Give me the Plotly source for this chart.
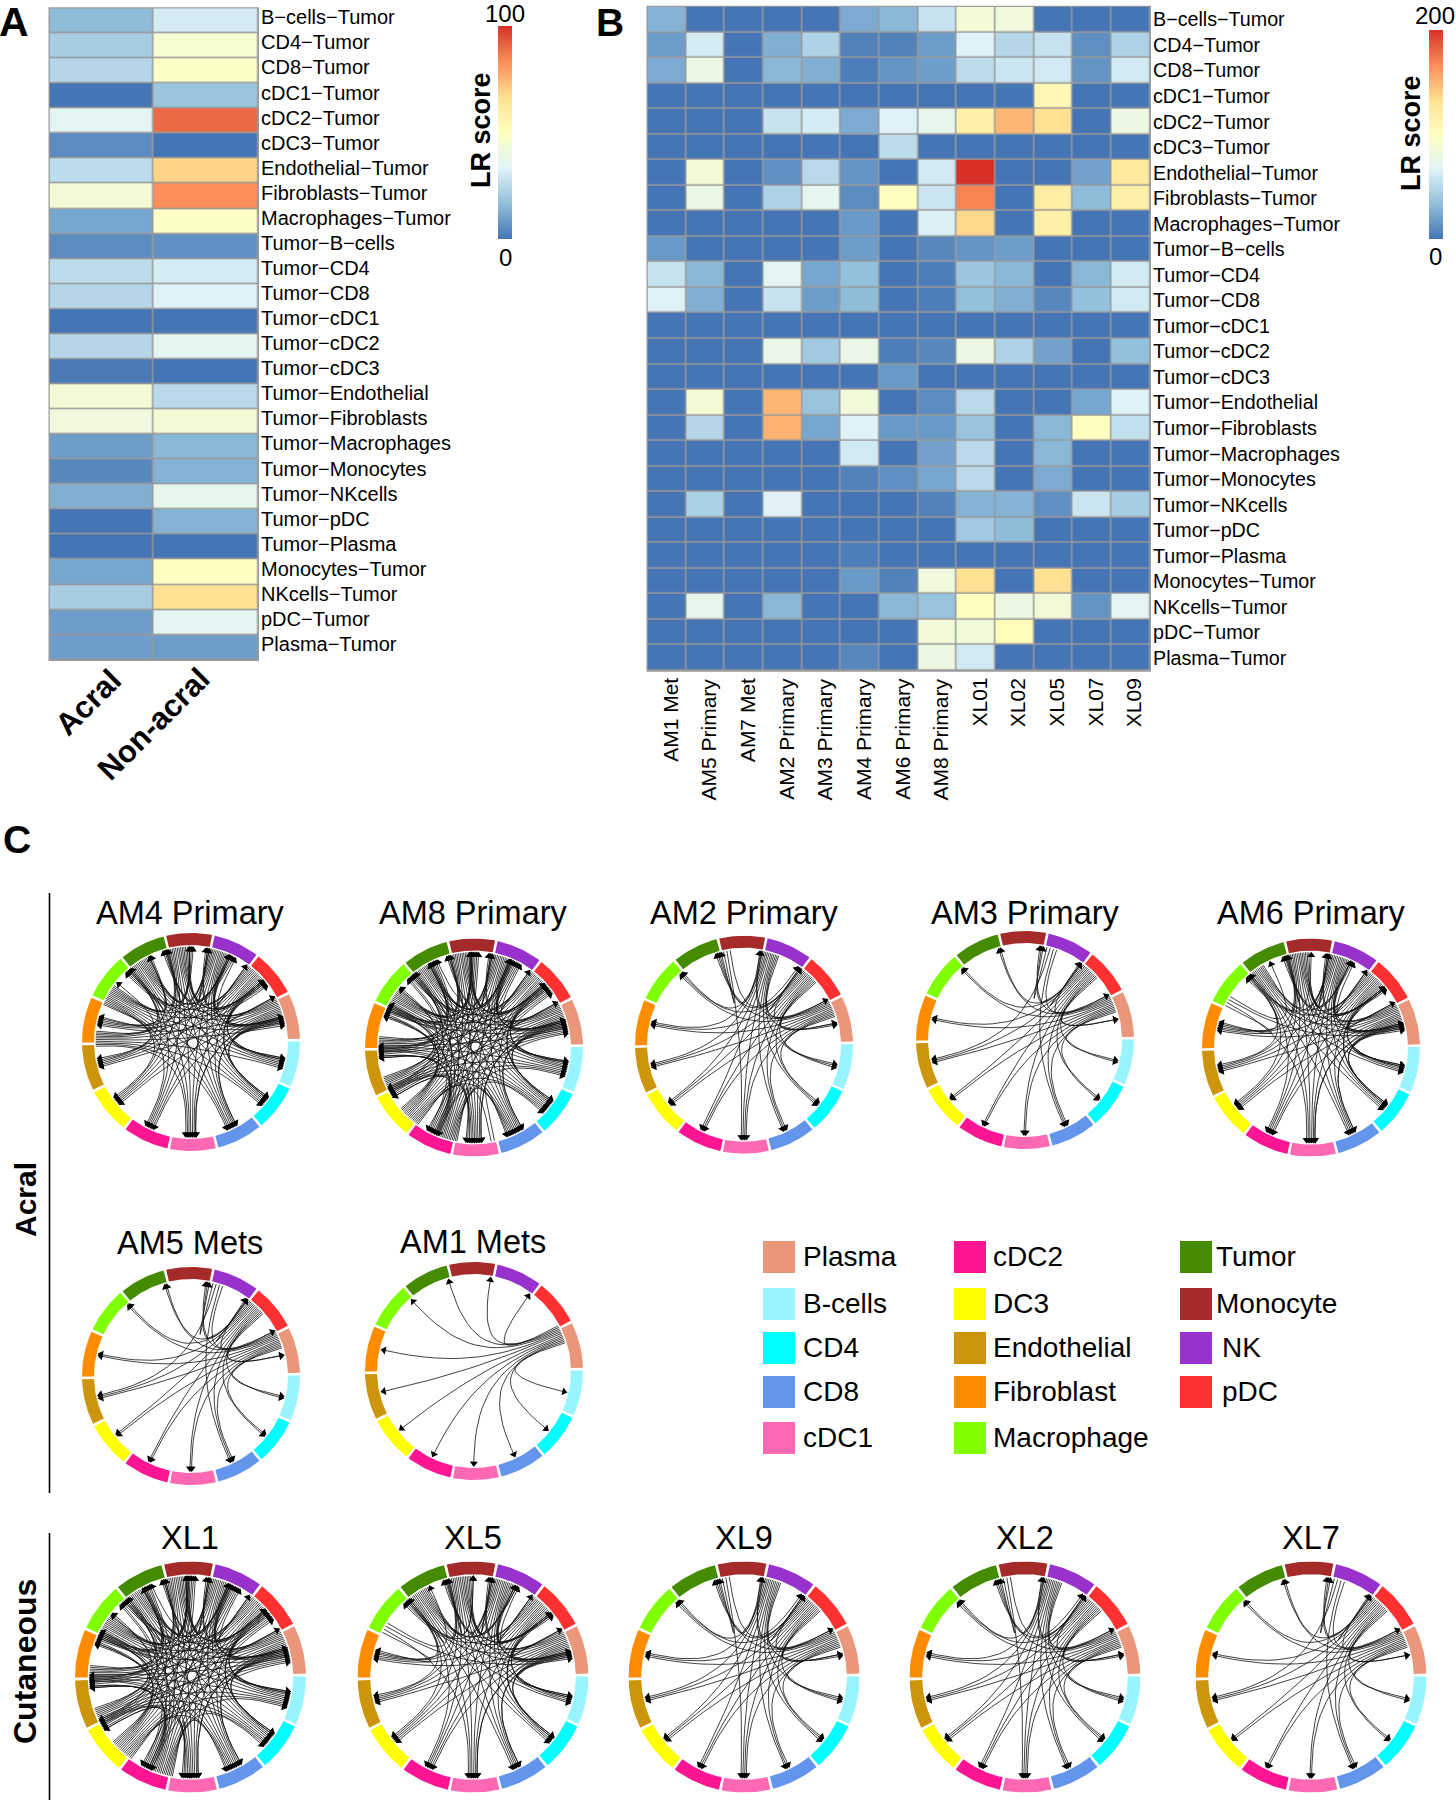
import numpy as np
import plotly.graph_objects as go

W, H = 1456, 1800
FONT = "Liberation Sans"

# ---------- Panels A and B: heatmap data ----------
M = "\u2212"
PAIRS = ["B-cells", "CD4", "CD8", "cDC1", "cDC2", "cDC3", "Endothelial", "Fibroblasts", "Macrophages"]
ROW_LABELS = [f"{p}{M}Tumor" for p in [x.replace("-", M) for x in PAIRS]] + \
    [f"Tumor{M}{x.replace('-', M)}" for x in ["B-cells", "CD4", "CD8", "cDC1", "cDC2", "cDC3", "Endothelial",
                                                 "Fibroblasts", "Macrophages", "Monocytes", "NKcells", "pDC", "Plasma"]] + \
    [f"{x}{M}Tumor" for x in ["Monocytes", "NKcells", "pDC", "Plasma"]]

A_ACRAL = [16, 21, 24, 0, 35, 5, 26, 44, 11, 5, 26, 24, 0, 24, 1, 44, 41, 9, 4, 13, 0, 0, 11, 21, 9, 9]
A_NONACRAL = [31, 45, 48, 19, 90, 0, 69, 83, 48, 6, 31, 33, 0, 36, 0, 25, 44, 15, 14, 37, 14, 0, 50, 66, 35, 9]

B_SAMPLES = ["AM1 Met", "AM5 Primary", "AM7 Met", "AM2 Primary", "AM3 Primary", "AM4 Primary", "AM6 Primary",
             "AM8 Primary", "XL01", "XL02", "XL05", "XL07", "XL09"]
B_VALUES = [
    [28, 0, 0, 0, 0, 24, 30, 56, 88, 82, 0, 0, 0],
    [18, 62, 0, 26, 46, 6, 6, 18, 66, 48, 56, 12, 46],
    [24, 80, 0, 30, 26, 4, 14, 18, 52, 58, 60, 14, 60],
    [0, 0, 0, 0, 0, 0, 0, 0, 0, 0, 108, 0, 0],
    [0, 0, 0, 56, 62, 24, 66, 74, 116, 150, 132, 0, 80],
    [0, 0, 0, 0, 0, 0, 52, 0, 0, 0, 0, 0, 0],
    [0, 88, 0, 12, 50, 14, 0, 60, 200, 0, 0, 20, 124],
    [0, 78, 0, 46, 72, 10, 100, 58, 170, 0, 120, 32, 116],
    [0, 0, 0, 0, 0, 16, 0, 64, 136, 0, 116, 0, 0],
    [16, 0, 0, 0, 0, 18, 0, 8, 14, 18, 0, 0, 0],
    [56, 30, 0, 70, 22, 34, 0, 4, 38, 30, 0, 30, 60],
    [66, 26, 0, 56, 18, 32, 0, 4, 34, 26, 8, 34, 60],
    [0, 0, 0, 0, 0, 0, 0, 0, 0, 0, 0, 0, 0],
    [0, 0, 0, 76, 40, 76, 4, 8, 80, 46, 20, 0, 34],
    [0, 0, 0, 0, 0, 0, 16, 0, 0, 0, 0, 0, 0],
    [0, 88, 0, 150, 36, 84, 0, 10, 50, 0, 0, 22, 66],
    [0, 48, 0, 152, 22, 66, 16, 16, 36, 0, 30, 100, 54],
    [0, 0, 0, 0, 0, 60, 0, 20, 50, 0, 30, 0, 0],
    [0, 0, 0, 0, 0, 6, 12, 22, 50, 0, 24, 0, 0],
    [0, 44, 0, 68, 0, 0, 0, 6, 28, 28, 12, 58, 42],
    [0, 0, 0, 0, 0, 0, 0, 0, 40, 32, 0, 0, 0],
    [0, 0, 0, 0, 0, 4, 0, 0, 0, 0, 0, 0, 0],
    [0, 0, 0, 0, 0, 16, 6, 82, 132, 0, 132, 0, 0],
    [0, 74, 0, 30, 0, 0, 30, 36, 100, 80, 86, 14, 70],
    [0, 0, 0, 0, 0, 0, 0, 86, 84, 104, 0, 0, 0],
    [0, 0, 0, 0, 0, 8, 0, 80, 60, 0, 0, 0, 0],
]
SCALE = [[0, "#4575B4"], [1 / 6, "#91BFDB"], [2 / 6, "#E0F3F8"], [3 / 6, "#FFFFBF"],
         [4 / 6, "#FEE090"], [5 / 6, "#FC8D59"], [1, "#D73027"]]

# ---------- Panel C: communication circles ----------
CELL_TYPES = ["B-cells", "CD4", "CD8", "cDC1", "cDC2", "DC3", "Endothelial", "Fibroblast",
              "Macrophage", "Tumor", "Monocyte", "NK", "pDC", "Plasma"]
CELL_COLORS = ["#98F5FF", "#00FFFF", "#6495ED", "#FF69B4", "#FF1493", "#FFFF00", "#CD950C", "#FF8C00",
               "#7FFF00", "#458B00", "#A52A2A", "#9932CC", "#FF3030", "#E9967A"]

#            B  4  8  c1 c2 D3 En Fi Ma Tu Mo NK pD Pl
AM4_OUT = [0, 0, 0, 0, 0, 0, 0, 10, 14, 15, 15, 15, 16, 17]
AM4_END = [0, 0, 0, 0, 0, 0, 0, 0, 5, 4, 3, 1, 1, 0]
AM8_OUT = [0, 0, 0, 2, 15, 15, 11, 10, 15, 15, 15, 15, 16, 17]
AM8_END = [0, 0, 0, 0, 0, 8, 9, 9, 7, 3, 3, 1, 1, 0]
AM2_OUT = [0, 0, 0, 0, 0, 0, 0, 0, 0, 0, 3, 12, 14, 12]
AM2_END = [0, 0, 0, 0, 0, 0, 0, 0, 4, 4, 4, 4, 1, 0]
AM3_OUT = [0, 0, 0, 0, 0, 0, 0, 0, 0, 0, 0, 4, 14, 12]
AM3_END = [0, 0, 0, 0, 0, 0, 0, 0, 3, 3, 3, 3, 1, 0]
AM6_OUT = [0, 0, 0, 0, 0, 0, 0, 0, 4, 12, 15, 15, 16, 17]
AM6_END = [0, 0, 0, 0, 0, 0, 0, 0, 5, 4, 3, 1, 1, 0]
AM5_OUT = [0, 0, 0, 0, 0, 0, 0, 0, 0, 0, 0, 4, 14, 12]
AM5_END = [0, 0, 0, 0, 0, 0, 0, 0, 3, 3, 3, 3, 1, 0]
AM1_OUT = [0, 0, 0, 0, 0, 0, 0, 0, 0, 0, 0, 0, 0, 12]
AM1_END = [0, 0, 0, 0, 0, 0, 0, 0, 1, 1, 1, 1, 0, 0]
XL1_OUT = [0, 0, 0, 0, 15, 15, 11, 10, 15, 15, 15, 15, 16, 17]
XL1_END = [0, 0, 0, 0, 0, 8, 9, 9, 7, 3, 3, 1, 1, 0]
XL5_OUT = [0, 0, 0, 0, 0, 0, 0, 0, 4, 15, 15, 15, 16, 17]
XL5_END = [0, 0, 0, 0, 0, 0, 0, 0, 5, 4, 3, 1, 1, 0]
XL9_OUT = [0, 0, 0, 0, 0, 0, 0, 0, 0, 0, 3, 12, 14, 12]
XL9_END = [0, 0, 0, 0, 0, 0, 0, 0, 4, 4, 4, 4, 1, 0]
XL2_OUT = [0, 0, 0, 0, 0, 0, 0, 0, 0, 0, 3, 12, 14, 12]
XL2_END = [0, 0, 0, 0, 0, 0, 0, 0, 4, 4, 4, 4, 1, 0]
XL7_OUT = [0, 0, 0, 0, 0, 0, 0, 0, 0, 0, 0, 4, 14, 12]
XL7_END = [0, 0, 0, 0, 0, 0, 0, 0, 3, 3, 3, 3, 1, 0]

# title, outgoing lines, lines landing at the far slot of a sector, cx, cy, R, title x, title y
CIRCLES = [
    ("AM4 Primary", AM4_OUT, AM4_END, 191, 1042, 109, 190, 913),
    ("AM8 Primary", AM8_OUT, AM8_END, 474, 1047.5, 109, 473, 913),
    ("AM2 Primary", AM2_OUT, AM2_END, 744, 1044.7, 109, 744, 913),
    ("AM3 Primary", AM3_OUT, AM3_END, 1025, 1040, 109, 1025, 913),
    ("AM6 Primary", AM6_OUT, AM6_END, 1311, 1047.6, 109, 1311, 913),
    ("AM5 Mets", AM5_OUT, AM5_END, 191, 1376, 109, 190, 1243),
    ("AM1 Mets", AM1_OUT, AM1_END, 474, 1371, 109, 473, 1242),
    ("XL1", XL1_OUT, XL1_END, 190.5, 1677, 115.5, 190, 1538),
    ("XL5", XL5_OUT, XL5_END, 473, 1677, 115.5, 473, 1538),
    ("XL9", XL9_OUT, XL9_END, 744, 1677, 115.5, 744, 1538),
    ("XL2", XL2_OUT, XL2_END, 1025, 1677, 115.5, 1025, 1538),
    ("XL7", XL7_OUT, XL7_END, 1311, 1677, 115.5, 1311, 1538),
]

LEGEND_COLS = [
    (763, 800.5, ["Plasma", "B-cells", "CD4", "CD8", "cDC1"]),
    (954, 991, ["cDC2", "DC3", "Endothelial", "Fibroblast", "Macrophage"]),
    (1180, 1214, ["Tumor", "Monocyte", "NK", "pDC"]),
]
LEGEND_Y = [1241, 1288, 1332, 1376, 1422]


def px(x):
    return x / W


def py(y):
    return 1 - y / H


data, shapes, annos = [], [], []
layout = {}

GRID = "#9A9A9A"


def cbar(x0, y0, y1):
    return dict(x=px(x0), xanchor="left", y=py(y1), yanchor="bottom", lenmode="pixels", len=y1 - y0,
                thicknessmode="pixels", thickness=14, outlinewidth=0, showticklabels=False, ticks="",
                xpad=0, ypad=0)


data.append(go.Heatmap(z=np.array([A_ACRAL, A_NONACRAL]).T.tolist(), x=["Acral", "Non-acral"], y=ROW_LABELS,
                       colorscale=SCALE, zmin=0, zmax=100, xgap=1.5, ygap=1.5, colorbar=cbar(498, 26, 239),
                       xaxis="x", yaxis="y", hoverinfo="skip"))
data.append(go.Heatmap(z=B_VALUES, x=B_SAMPLES, y=ROW_LABELS,
                       colorscale=SCALE, zmin=0, zmax=200, xgap=1.5, ygap=1.5, colorbar=cbar(1429, 30, 239),
                       xaxis="x2", yaxis="y2", hoverinfo="skip"))

for key, (x0, x1, y0, y1), ncol in [("", (49.5, 258, 8.3, 660), 2), ("2", (647.5, 1150, 6.7, 670.7), 13)]:
    shapes.append(dict(type="rect", xref="paper", yref="paper", x0=px(x0 - 1), x1=px(x1 + 1), y0=py(y1 + 1), y1=py(y0 - 1),
                       fillcolor=GRID, line_width=0, layer="below"))
    layout[f"xaxis{key}"] = dict(domain=[px(x0), px(x1)], anchor=f"y{key}", showgrid=False, zeroline=False,
                                 ticks="", ticklen=0, showticklabels=False, range=[-0.5, ncol - 0.5], autorange=False)
    layout[f"yaxis{key}"] = dict(domain=[py(y1), py(y0)], anchor=f"x{key}", side="right",
                                 range=[len(ROW_LABELS) - 0.5, -0.5], autorange=False,
                                 showgrid=False, zeroline=False, ticks="", ticklen=0,
                                 showticklabels=key == "2",
                                 tickfont=dict(family=FONT, size=19.7, color="#000"),
                                 ticklabelstandoff=2)


def text(t, x, y, size, bold=False, angle=0, xanchor="center", pad=1):
    annos.append(dict(text=f"<b>{t}</b>" if bold else t, x=px(x), y=py(y), xref="paper", yref="paper",
                      showarrow=False, xanchor=xanchor, yanchor="middle", textangle=angle, borderpad=pad,
                      font=dict(family=FONT, size=size, color="#000")))


# row labels of A sit a little above their cells; column labels of B a little right of theirs
for lab in ROW_LABELS:
    annos.append(dict(text=lab, x=px(259), y=lab, xref="paper", yref="y", yshift=3.5, showarrow=False,
                      xanchor="left", yanchor="middle", font=dict(family=FONT, size=20, color="#000")))
for lab in B_SAMPLES:
    annos.append(dict(text=lab, x=lab, y=py(676), xref="x2", yref="paper", xshift=3, showarrow=False,
                      xanchor="center", yanchor="top", textangle=-90, font=dict(family=FONT, size=21, color="#000")))

text("A", 14, 22, 41, True)
text("B", 610, 22, 39, True, pad=0)
text("C", 17, 839, 39, True)
text("Acral", 88, 702, 31, True, -45)
text("Non-acral", 153, 724, 31, True, -45)
text("LR score", 481, 130, 27, True, -90)
text("100", 505, 14, 24, pad=0)
text("0", 505, 257, 24)
text("LR score", 1411, 133, 27, True, -90)
text("200", 1435, 16, 24)
text("0", 1435, 256, 24)
text("Acral", 25, 1200, 30, True, -90)
text("Cutaneous", 25, 1662, 32, True, -90)

for yy0, yy1 in [(893, 1493), (1533, 1800)]:
    shapes.append(dict(type="line", xref="paper", yref="paper", x0=px(49.5), x1=px(49.5), y0=py(yy0), y1=py(yy1),
                       line=dict(color="#000", width=1.6)))

color_of = dict(zip(CELL_TYPES, CELL_COLORS))
for xs, xt, items in LEGEND_COLS:
    for yy, name in zip(LEGEND_Y, items):
        shapes.append(dict(type="rect", xref="paper", yref="paper", x0=px(xs), x1=px(xs + 32), y0=py(yy + 32), y1=py(yy),
                           fillcolor=color_of[name], line_width=0))
        tx = xt + (6 if name in ("NK", "pDC") else 0)
        text(name, tx, yy + 15, 28, xanchor="left")

STEP = 360 / 14
ROT = -1.0
RIM = 0.875
K = 0.26


def pol(deg, r):
    a = np.deg2rad(deg + ROT)
    return r * np.cos(a), -r * np.sin(a)


def bez(p0, p3, n=22):
    t = np.linspace(0, 1, n)
    c1 = (K * p0[0], K * p0[1])
    c2 = (K * p3[0], K * p3[1])
    fx = (1 - t) ** 3 * p0[0] + 3 * (1 - t) ** 2 * t * c1[0] + 3 * (1 - t) * t ** 2 * c2[0] + t ** 3 * p3[0]
    fy = (1 - t) ** 3 * p0[1] + 3 * (1 - t) ** 2 * t * c1[1] + 3 * (1 - t) * t ** 2 * c2[1] + t ** 3 * p3[1]
    return fx, fy


for i, (title, out, end, cx, cy, R, tx0, ty) in enumerate(CIRCLES):
    n = i + 3
    xa, ya = f"x{n}", f"y{n}"
    layout[f"xaxis{n}"] = dict(domain=[px(cx - R), px(cx + R)], range=[-1, 1], visible=False, anchor=ya, fixedrange=True)
    layout[f"yaxis{n}"] = dict(domain=[py(cy + R), py(cy - R)], range=[-1, 1], visible=False, anchor=xa, fixedrange=True)
    text(title, tx0, ty, 32.5)

    # ring
    for s, col in enumerate(CELL_COLORS):
        th = np.linspace(s * STEP + 0.7, (s + 1) * STEP - 0.7, 20)
        xo, yo = pol(th, 1.0)
        xi, yi = pol(th[::-1], 0.89)
        data.append(go.Scatter(x=list(xo) + list(xi) + [xo[0]], y=list(yo) + list(yi) + [yo[0]], mode="lines",
                               fill="toself", fillcolor=col, line=dict(width=0, color=col), xaxis=xa, yaxis=ya,
                               hoverinfo="skip", showlegend=False, cliponaxis=False))

    # edges: a sector's line count above 13 means some receivers get a doubled line
    incoming = {t: set() for t in range(14)}
    outgoing = {}
    for s in range(14):
        if out[s] == 0:
            continue
        order = [(s + d) % 14 for d in range(1, 14)]
        if out[s] >= 9:
            targets = (order + order)[:out[s]]
        else:
            targets = [order[int(round(v))] for v in np.linspace(0, 12, out[s])]
        outgoing[s] = targets
        for t in targets:
            incoming[t].add(s)

    heads = {}
    for t, srcs in incoming.items():
        srcs = sorted(srcs, key=lambda s: -((s - t) % 14))
        m = len(srcs)
        far = min(end[t], m)
        near = m - far
        for j, s in enumerate(srcs):
            if j < near:
                ang = t * STEP + 14 + (j - (near - 1) / 2) * 1.05
            else:
                ang = t * STEP + 24 + (j - near - (far - 1) / 2) * 1.05
            heads[(s, t)] = ang

    lx, ly, hx, hy, ha = [], [], [], [], []
    size = 7
    back = (size / 2) / R
    for s, targets in outgoing.items():
        tt = sorted(targets, key=lambda t: -((t - s) % 14))
        cnt = len(tt)
        spacing = 1.0 if cnt >= 9 else 2.0
        start = s * STEP + (-1.5 if cnt >= 9 else 1.5)
        for j, t in enumerate(tt):
            p0 = pol(start + j * spacing, RIM)
            p3 = pol(heads[(s, t)], RIM + 0.005)
            fx, fy = bez(p0, p3)
            dv = np.array([fx[-1] - fx[-2], fy[-1] - fy[-2]])
            dv = dv / np.linalg.norm(dv)
            ex, ey = p3[0] - dv[0] * back, p3[1] - dv[1] * back
            fx[-1], fy[-1] = ex, ey
            lx += list(fx) + [None]
            ly += list(fy) + [None]
            hx.append(ex)
            hy.append(ey)
            ha.append(float(np.degrees(np.arctan2(dv[0], dv[1]))))
    data.append(go.Scatter(x=lx, y=ly, mode="lines", line=dict(color="#111", width=0.8), xaxis=xa, yaxis=ya,
                           hoverinfo="skip", showlegend=False, connectgaps=False))
    data.append(go.Scatter(x=hx, y=hy, mode="markers", xaxis=xa, yaxis=ya, hoverinfo="skip", showlegend=False,
                           marker=dict(symbol="triangle-up", size=size, color="#000", angle=ha, line_width=0)))

fig = go.Figure(data=data)
fig.update_layout(width=W, height=H, margin=dict(l=0, r=0, t=0, b=0), paper_bgcolor="white", plot_bgcolor="rgba(0,0,0,0)",
                  showlegend=False, shapes=shapes, annotations=annos, font=dict(family=FONT), **layout)
fig.write_html("out.html", post_script="document.body.style.margin='0';", config={"displayModeBar": False})
